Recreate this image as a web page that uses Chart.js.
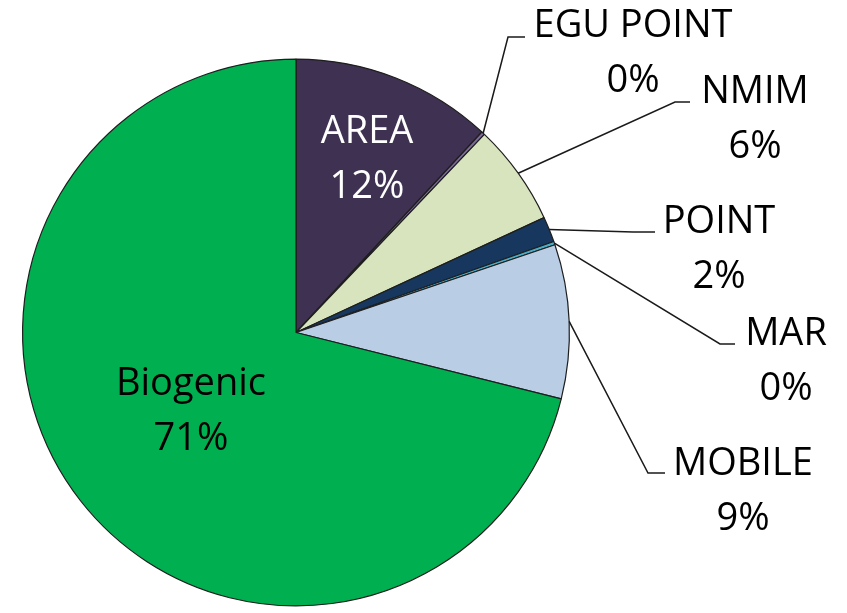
<!DOCTYPE html>
<html>
<head>
<meta charset="utf-8">
<script src="https://cdn.jsdelivr.net/npm/chart.js@4/dist/chart.umd.min.js"></script>
<style>
  html, body { margin: 0; padding: 0; background: #fff; }
  canvas { display: block; }
</style>
</head>
<body>
<canvas id="pie" width="847" height="613"></canvas>
<script>
// Data (share of total, %)
const categories = ['AREA', 'EGU POINT', 'NMIM', 'POINT', 'MAR', 'MOBILE', 'Biogenic'];
const shares = [11.9, 0.2, 6.0, 1.5, 0.2, 9.1, 71.1];
const sliceColors = ['#3f3151', '#7f6a9c', '#d7e4bd', '#17375e', '#4bacc6', '#b9cde5', '#00b050'];

// Label layout: text centre x, first baseline y, leader elbow + end (null = label inside slice)
const labelPos = [
    { x: 367, y: 143, color: '#ffffff', leader: null },
    { x: 633, y: 37, color: '#000000', leader: [508, 37, 525] },
    { x: 755, y: 103, color: '#000000', leader: [675, 102, 690] },
    { x: 719, y: 233, color: '#000000', leader: [633, 232, 655] },
    { x: 786, y: 345, color: '#000000', leader: [720, 344, 735] },
    { x: 743, y: 475, color: '#000000', leader: [648, 473, 665] },
    { x: 191, y: 395, color: '#000000', leader: null }
];

const lineHeight = 55;

// draws category + percent labels with leader lines
const pieLabels = {
    id: 'pieLabels',
    afterDatasetsDraw(chart) {
        const ctx = chart.ctx;
        const meta = chart.getDatasetMeta(0);
        const total = shares.reduce((s, v) => s + v, 0);

        ctx.save();
        ctx.font = '38px "Open Sans", sans-serif';
        ctx.textAlign = 'center';
        ctx.textBaseline = 'alphabetic';

        meta.data.forEach((arc, i) => {
            const pos = labelPos[i];
            const pct = Math.round(shares[i] / total * 100) + '%';

            if (pos.leader) {
                const mid = (arc.startAngle + arc.endAngle) / 2;
                const sx = arc.x + Math.cos(mid) * arc.outerRadius;
                const sy = arc.y + Math.sin(mid) * arc.outerRadius;
                ctx.beginPath();
                ctx.strokeStyle = '#1a1a1a';
                ctx.lineWidth = 1.5;
                ctx.moveTo(sx, sy);
                ctx.lineTo(pos.leader[0], pos.leader[1]);
                ctx.lineTo(pos.leader[2], pos.leader[1]);
                ctx.stroke();
            }

            ctx.fillStyle = pos.color;
            ctx.fillText(categories[i], pos.x, pos.y);
            ctx.fillText(pct, pos.x, pos.y + lineHeight);
        });
        ctx.restore();
    }
};

new Chart(document.getElementById('pie'), {
    type: 'pie',
    data: {
        labels: categories,
        datasets: [{
            data: shares,
            backgroundColor: sliceColors,
            borderColor: '#1e1e1e',
            borderWidth: 1.2
        }]
    },
    options: {
        responsive: false,
        animation: false,
        layout: {
            padding: { left: 22, right: 277, top: 58, bottom: 6 }
        },
        plugins: {
            legend: { display: false },
            tooltip: { enabled: false }
        }
    },
    plugins: [pieLabels]
});
</script>
</body>
</html>
